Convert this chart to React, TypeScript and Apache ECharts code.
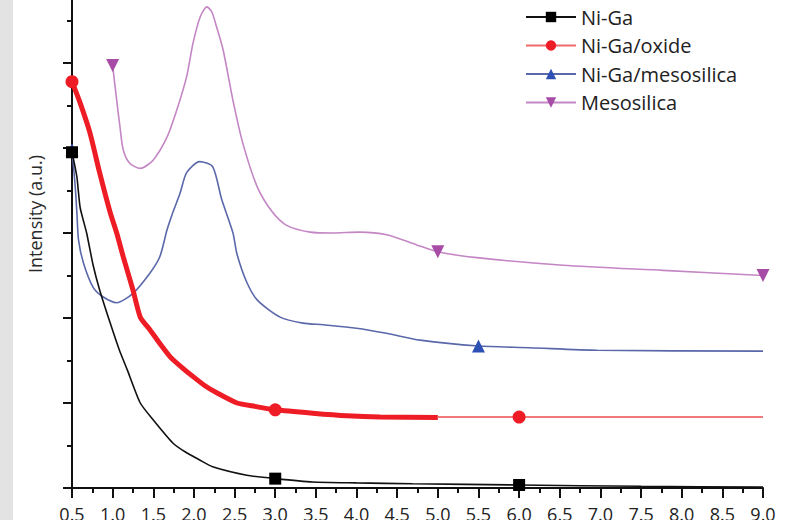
import { useEffect, useRef } from "react";
import * as echarts from "echarts";

// Scattering curves, intensity (a.u.) against q
const xTicks = [0.5, 9.0];

const niGa: [number, number][] = [
  [0.5, 3.95], [0.56, 3.66], [0.6, 3.3], [0.68, 3.0], [0.76, 2.62], [0.84, 2.33],
  [0.97, 1.94], [1.08, 1.63], [1.18, 1.39], [1.34, 1.0], [1.5, 0.8], [1.74, 0.53],
  [1.9, 0.42], [2.07, 0.33], [2.23, 0.25], [2.65, 0.15], [3.0, 0.11], [3.46, 0.07],
  [4.0, 0.06], [4.69, 0.05], [6.0, 0.035], [7.5, 0.02], [9.0, 0.01],
];
const niGaMarks = [0.5, 3.0, 6.0];

const oxideDense: [number, number][] = [
  [0.5, 4.78], [0.6, 4.53], [0.72, 4.18], [0.84, 3.71], [0.97, 3.24], [1.05, 3.0],
  [1.13, 2.72], [1.25, 2.33], [1.34, 2.01], [1.46, 1.86], [1.58, 1.7], [1.71, 1.54],
  [1.85, 1.42], [1.99, 1.31], [2.14, 1.2], [2.28, 1.12], [2.53, 1.0], [2.75, 0.96],
  [3.0, 0.92], [3.46, 0.88], [3.88, 0.85], [4.29, 0.835], [5.0, 0.83],
];
const oxideTail: [number, number][] = [[5.0, 0.835], [6.0, 0.835], [9.0, 0.835]];
const oxideMarks = [0.5, 3.0, 6.0];

const mesoNiGa: [number, number][] = [
  [0.5, 3.98], [0.54, 3.54], [0.56, 3.24], [0.58, 2.92], [0.64, 2.65], [0.76, 2.36],
  [0.88, 2.25], [1.05, 2.18], [1.25, 2.29], [1.46, 2.53], [1.58, 2.72], [1.67, 3.04],
  [1.74, 3.24], [1.83, 3.47], [1.91, 3.71], [2.07, 3.84], [2.23, 3.78], [2.34, 3.4],
  [2.48, 3.0], [2.53, 2.75], [2.65, 2.42], [2.78, 2.21], [3.06, 2.01], [3.34, 1.94],
  [3.59, 1.92], [4.0, 1.88], [4.37, 1.82], [4.78, 1.74], [5.5, 1.67], [6.13, 1.65],
  [6.96, 1.62], [9.0, 1.61],
];
const mesoNiGaMarks = [0.5, 5.5];

const mesosilica: [number, number][] = [
  [1.0, 4.97], [1.05, 4.56], [1.09, 4.25], [1.13, 3.98], [1.21, 3.82], [1.34, 3.76],
  [1.5, 3.86], [1.67, 4.13], [1.79, 4.45], [1.91, 4.84], [1.99, 5.24], [2.08, 5.55],
  [2.16, 5.66], [2.22, 5.6], [2.28, 5.42], [2.36, 5.15], [2.48, 4.56], [2.6, 4.06],
  [2.78, 3.54], [2.97, 3.24], [3.14, 3.09], [3.43, 3.01], [3.7, 3.0], [4.04, 3.01],
  [4.37, 2.98], [4.74, 2.86], [5.0, 2.78], [5.48, 2.71], [6.54, 2.62], [7.77, 2.56],
  [9.0, 2.5],
];
const mesosilicaMarks = [1.0, 5.0, 9.0];

const seriesNames = ["Ni-Ga", "Ni-Ga/oxide", "Ni-Ga/mesosilica", "Mesosilica"];

const FONT = "'Open Sans', 'Noto Sans', sans-serif";

// only the chosen points carry a symbol
function withMarks(points: [number, number][], marks: number[]) {
  return points.map(([x, y]) =>
    marks.includes(x) ? { value: [x, y] } : { value: [x, y], symbol: "none" }
  );
}

export default function App() {
  const ref = useRef<HTMLDivElement>(null);

  useEffect(() => {
    const chart = echarts.init(ref.current!, null, { renderer: "svg" });
    chart.setOption({
      animation: false,
      backgroundColor: "#ffffff",
      grid: { left: 72, right: 37, top: 18, bottom: 52 },
      legend: {
        orient: "vertical",
        left: 525,
        top: 47,
        padding: 0,
        itemWidth: 50,
        itemHeight: 13,
        itemGap: 8.5,
        data: [
          { name: seriesNames[0] },
          { name: seriesNames[1], lineStyle: { color: "#f06a6a" } },
          { name: seriesNames[2] },
          { name: seriesNames[3] },
        ],
        lineStyle: { width: 2 },
        textStyle: { fontFamily: FONT, fontSize: 20, color: "#222" },
      },
      xAxis: {
        type: "value",
        min: xTicks[0],
        max: xTicks[1],
        interval: 0.5,
        axisLine: { show: true, onZero: false, lineStyle: { color: "#111", width: 2 } },
        axisTick: { show: true, length: 10, lineStyle: { color: "#111", width: 2 } },
        minorTick: { show: true, splitNumber: 2, length: 5, lineStyle: { color: "#111", width: 2 } },
        splitLine: { show: false },
        axisLabel: {
          margin: 17,
          fontSize: 18,
          fontFamily: FONT,
          color: "#222",
          formatter: (v: number) => v.toFixed(1),
        },
      },
      yAxis: {
        type: "value",
        min: 0,
        max: 6,
        interval: 1,
        axisLine: { show: true, lineStyle: { color: "#111", width: 2 } },
        axisTick: { show: true, length: 9, lineStyle: { color: "#111", width: 2 } },
        minorTick: { show: true, splitNumber: 2, length: 5, lineStyle: { color: "#111", width: 2 } },
        splitLine: { show: false },
        axisLabel: { show: false },
      },
      graphic: [
        { type: "rect", shape: { x: 0, y: 0, width: 13, height: 580 }, style: { fill: "#e3e3e3" }, silent: true },
        {
          type: "text",
          x: 35,
          y: 254,
          rotation: Math.PI / 2,
          style: {
            text: "Intensity (a.u.)",
            fontSize: 18,
            fontFamily: FONT,
            fill: "#2a2a2a",
            align: "center",
            verticalAlign: "middle",
          },
        },
      ],
      series: [
        {
          name: seriesNames[0],
          type: "line",
          clip: false,
          smooth: 0.2,
          symbol: "rect",
          symbolSize: 12,
          itemStyle: { color: "#000000" },
          lineStyle: { color: "#111111", width: 1.6 },
          data: withMarks(niGa, niGaMarks),
          z: 5,
        },
        {
          name: seriesNames[1],
          type: "line",
          clip: false,
          smooth: 0.2,
          symbol: "circle",
          symbolSize: 13,
          itemStyle: { color: "#ee1c25" },
          lineStyle: { color: "#ee1c25", width: 5 },
          data: withMarks(oxideDense, oxideMarks),
          z: 4,
        },
        {
          name: seriesNames[1],
          type: "line",
          clip: false,
          symbol: "circle",
          symbolSize: 13,
          itemStyle: { color: "#ee1c25" },
          lineStyle: { color: "#f07a7a", width: 2 },
          data: withMarks(oxideTail, oxideMarks),
          z: 4,
        },
        {
          name: seriesNames[2],
          type: "line",
          clip: false,
          smooth: 0.25,
          symbol: "triangle",
          symbolSize: 13,
          itemStyle: { color: "#2e4fb3" },
          lineStyle: { color: "#5a68aa", width: 1.6 },
          data: withMarks(mesoNiGa, mesoNiGaMarks),
          z: 3,
        },
        {
          name: seriesNames[3],
          type: "line",
          clip: false,
          smooth: 0.25,
          symbol: "triangle",
          symbolRotate: 180,
          symbolSize: 13,
          itemStyle: { color: "#a64ca6" },
          lineStyle: { color: "#c486c4", width: 1.6 },
          data: withMarks(mesosilica, mesosilicaMarks),
          z: 2,
        },
      ],
    });
    return () => chart.dispose();
  }, []);

  return (
    <div
      ref={ref}
      style={{ position: "fixed", left: 0, top: -40, width: 800, height: 580, background: "#fff" }}
    />
  );
}
